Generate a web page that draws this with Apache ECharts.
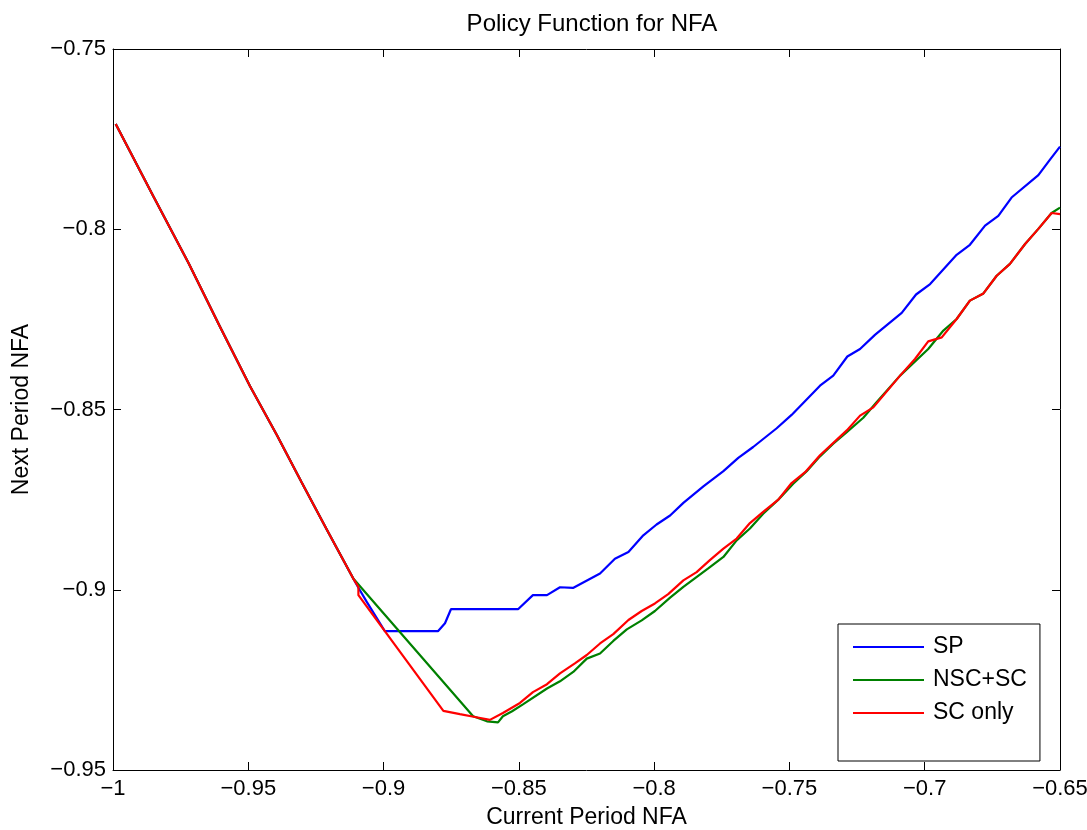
<!DOCTYPE html>
<html>
<head>
<meta charset="utf-8">
<script src="https://cdn.jsdelivr.net/npm/echarts@6/dist/echarts.min.js"></script>
<style>
  html, body { margin: 0; padding: 0; background: #fff; }
  #chart { width: 1087px; height: 830px; }
</style>
</head>
<body>
<div id="chart"></div>
<script>
// shared left branch (all three policies coincide here)
const leftX = [-0.999, -0.985, -0.972, -0.9605, -0.9494, -0.9395, -0.9303, -0.921, -0.9112];
const leftY = [-0.7708, -0.7910, -0.8095, -0.8270, -0.8435, -0.8570, -0.8702, -0.8833, -0.8969];

const spX = [-0.9094, -0.9061, -0.8995, -0.8799, -0.8773, -0.8751, -0.8503, -0.8448, -0.8396, -0.8348,
  -0.8300, -0.8200, -0.8145, -0.8095, -0.8040, -0.7991, -0.7941, -0.7892, -0.7818, -0.7744,
  -0.7689, -0.7634, -0.7547, -0.7492, -0.7387, -0.7338, -0.7286, -0.7239, -0.7184, -0.7085,
  -0.7032, -0.6980, -0.6882, -0.6833, -0.6777, -0.6728, -0.6679, -0.6580, -0.6537, -0.6500];
const spY = [-0.8993, -0.9035, -0.9115, -0.9115, -0.9093, -0.9054, -0.9054, -0.9015, -0.9015, -0.8993,
  -0.8995, -0.8955, -0.8914, -0.8895, -0.8849, -0.8819, -0.8794, -0.8759, -0.8713, -0.8671,
  -0.8634, -0.8604, -0.8552, -0.8515, -0.8434, -0.8406, -0.8353, -0.8332, -0.8293, -0.8232,
  -0.8181, -0.8152, -0.8071, -0.8043, -0.7990, -0.7963, -0.7912, -0.7850, -0.7807, -0.7771];

const nscX = [-0.8669, -0.8618, -0.8577, -0.8559, -0.8525, -0.8485, -0.8396, -0.8348, -0.8299, -0.8249,
  -0.8200, -0.8151, -0.8101, -0.8046, -0.7997, -0.7941, -0.7892, -0.7800, -0.7744, -0.7695,
  -0.7646, -0.7597, -0.7541, -0.7486, -0.7436, -0.7387, -0.7338, -0.7288, -0.7227, -0.7178,
  -0.7091, -0.6987, -0.6931, -0.6882, -0.6833, -0.6783, -0.6734, -0.6685, -0.6629, -0.6580,
  -0.6531, -0.6500];
const nscY = [-0.9351, -0.9365, -0.9368, -0.9351, -0.9337, -0.9318, -0.9274, -0.9254, -0.9228, -0.9191,
  -0.9177, -0.9142, -0.9110, -0.9085, -0.9059, -0.9022, -0.8992, -0.8941, -0.8909, -0.8863,
  -0.8830, -0.8789, -0.8750, -0.8706, -0.8671, -0.8630, -0.8595, -0.8563, -0.8523, -0.8480,
  -0.8406, -0.8332, -0.8281, -0.8249, -0.8198, -0.8178, -0.8129, -0.8096, -0.8041, -0.7999,
  -0.7955, -0.7940];

const scX = [-0.9093, -0.9093, -0.8779, -0.8718, -0.8662, -0.8607, -0.8559, -0.8496, -0.8448, -0.8396,
  -0.8348, -0.8293, -0.8249, -0.8200, -0.8151, -0.8095, -0.8046, -0.7997, -0.7948, -0.7892,
  -0.7843, -0.7794, -0.7744, -0.7695, -0.7646, -0.7597, -0.7541, -0.7492, -0.7442, -0.7387,
  -0.7288, -0.7239, -0.7190, -0.7091, -0.7036, -0.6987, -0.6937, -0.6882, -0.6833, -0.6783,
  -0.6734, -0.6685, -0.6629, -0.6580, -0.6531, -0.6500];
const scY = [-0.8992, -0.9015, -0.9336, -0.9345, -0.9353, -0.9361, -0.9342, -0.9314, -0.9284, -0.9262,
  -0.9232, -0.9204, -0.9181, -0.9149, -0.9123, -0.9084, -0.9059, -0.9038, -0.9012, -0.8974,
  -0.8951, -0.8918, -0.8886, -0.8858, -0.8815, -0.8784, -0.8750, -0.8704, -0.8674, -0.8627,
  -0.8558, -0.8517, -0.8494, -0.8406, -0.8360, -0.8311, -0.8300, -0.8249, -0.8198, -0.8178,
  -0.8129, -0.8096, -0.8041, -0.7999, -0.7955, -0.7958];

const xTicks = { min: -1, max: -0.65, interval: 0.05 };
const yTicks = { min: -0.95, max: -0.75, interval: 0.05 };

const FONT = "'Liberation Sans', Arial, Helvetica, sans-serif";

function pairs(xs, ys) {
  return xs.map((x, i) => [x, ys[i]]);
}
function fmt(v) {
  return String(+v.toFixed(4)).replace('-', '\u2212');
}

const chart = echarts.init(document.getElementById('chart'));

const axisCommon = {
  axisLine: { show: true, onZero: false, lineStyle: { color: '#000', width: 1 } },
  axisTick: { show: true, inside: true, length: 8, lineStyle: { color: '#000', width: 1 } },
  splitLine: { show: false }
};

chart.setOption({
  animation: false,
  backgroundColor: '#fff',
  textStyle: { fontFamily: FONT },
  title: {
    text: 'Policy Function for NFA',
    left: 587,
    top: 7,
    textAlign: 'center',
    textStyle: { fontFamily: FONT, fontSize: 24, fontWeight: 'normal', color: '#000' }
  },
  grid: { left: 113, right: 27, top: 49, bottom: 60, outerBoundsMode: 'none', containLabel: false },
  legend: {
    orient: 'vertical',
    left: 838,
    top: 624,
    padding: [11, 13, 36, 15],
    icon: 'rect',
    itemWidth: 71,
    itemHeight: 2,
    itemGap: 9,
    backgroundColor: '#fff',
    borderColor: '#000',
    borderWidth: 1,
    borderRadius: 0,
    textStyle: { fontFamily: FONT, fontSize: 23, color: '#000', padding: [0, 0, 0, 4], lineHeight: 24 },
    data: ['SP', 'NSC+SC', 'SC only']
  },
  xAxis: [
    Object.assign({
      type: 'value',
      position: 'bottom',
      min: xTicks.min, max: xTicks.max, interval: xTicks.interval,
      name: 'Current Period NFA',
      nameLocation: 'middle',
      nameGap: 36,
      nameTextStyle: { fontFamily: FONT, fontSize: 23, color: '#000' },
      axisLabel: { fontFamily: FONT, fontSize: 22, color: '#000', margin: 8, formatter: fmt }
    }, axisCommon),
    Object.assign({
      type: 'value',
      position: 'top',
      min: xTicks.min, max: xTicks.max, interval: xTicks.interval,
      axisLabel: { show: false }
    }, axisCommon)
  ],
  yAxis: [
    Object.assign({
      type: 'value',
      position: 'left',
      min: yTicks.min, max: yTicks.max, interval: yTicks.interval,
      name: 'Next Period NFA',
      nameLocation: 'middle',
      nameGap: 80,
      nameTextStyle: { fontFamily: FONT, fontSize: 23, color: '#000' },
      axisLabel: { fontFamily: FONT, fontSize: 22, color: '#000', margin: 7, formatter: fmt }
    }, axisCommon),
    Object.assign({
      type: 'value',
      position: 'right',
      min: yTicks.min, max: yTicks.max, interval: yTicks.interval,
      axisLabel: { show: false }
    }, axisCommon)
  ],
  series: [
    {
      name: 'SP', type: 'line', symbol: 'none',
      lineStyle: { color: '#0000ff', width: 2.2 }, itemStyle: { color: '#0000ff' },
      data: pairs(leftX.concat(spX), leftY.concat(spY))
    },
    {
      name: 'NSC+SC', type: 'line', symbol: 'none',
      lineStyle: { color: '#008000', width: 2.2 }, itemStyle: { color: '#008000' },
      data: pairs(leftX.concat(nscX), leftY.concat(nscY))
    },
    {
      name: 'SC only', type: 'line', symbol: 'none',
      lineStyle: { color: '#ff0000', width: 2.2 }, itemStyle: { color: '#ff0000' },
      data: pairs(leftX.concat(scX), leftY.concat(scY))
    }
  ]
});

window.addEventListener('resize', () => chart.resize());
</script>
</body>
</html>
